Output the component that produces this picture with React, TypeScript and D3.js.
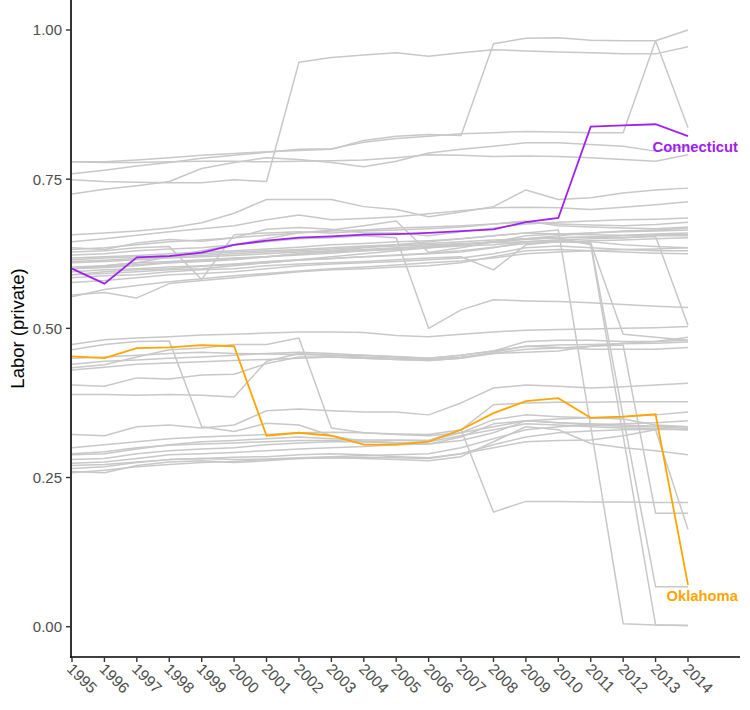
import * as d3 from "d3";

const years = d3.range(1995, 2015);
const yTicks = [0, 0.25, 0.5, 0.75, 1];

// highlighted states
const connecticut = [0.600, 0.575, 0.619, 0.621, 0.627, 0.640, 0.647, 0.652, 0.654, 0.657, 0.658, 0.660, 0.663, 0.666, 0.678, 0.685, 0.838, 0.840, 0.842, 0.822];
const oklahoma = [0.453, 0.450, 0.467, 0.468, 0.472, 0.470, 0.320, 0.325, 0.320, 0.305, 0.305, 0.310, 0.330, 0.358, 0.378, 0.383, 0.350, 0.352, 0.356, 0.070];

// remaining states (grey)
const s01 = [0.749, 0.746, 0.745, 0.744, 0.744, 0.749, 0.746, 0.946, 0.954, 0.958, 0.962, 0.956, 0.962, 0.967, 0.965, 0.963, 0.962, 0.960, 0.960, 0.972];
const s02 = [0.779, 0.779, 0.782, 0.786, 0.790, 0.793, 0.796, 0.798, 0.800, 0.815, 0.822, 0.825, 0.823, 0.977, 0.986, 0.987, 0.983, 0.982, 0.982, 1.000];
const s03 = [0.759, 0.765, 0.772, 0.778, 0.785, 0.790, 0.795, 0.800, 0.801, 0.812, 0.818, 0.822, 0.826, 0.828, 0.830, 0.829, 0.828, 0.828, 0.982, 0.836];
const s04 = [0.779, 0.778, 0.778, 0.779, 0.780, 0.780, 0.779, 0.780, 0.781, 0.782, 0.786, 0.791, 0.790, 0.788, 0.789, 0.788, 0.786, 0.783, 0.780, 0.791];
const s05 = [0.725, 0.733, 0.739, 0.746, 0.768, 0.778, 0.786, 0.783, 0.778, 0.771, 0.780, 0.794, 0.800, 0.805, 0.811, 0.811, 0.808, 0.805, 0.797, 0.805];
const s06 = [0.657, 0.660, 0.663, 0.668, 0.677, 0.693, 0.716, 0.716, 0.716, 0.704, 0.699, 0.687, 0.695, 0.704, 0.732, 0.716, 0.719, 0.727, 0.732, 0.735];
const s07 = [0.645, 0.650, 0.656, 0.662, 0.667, 0.672, 0.682, 0.690, 0.682, 0.684, 0.687, 0.692, 0.697, 0.702, 0.703, 0.702, 0.699, 0.703, 0.707, 0.712];
const s08 = [0.635, 0.632, 0.643, 0.649, 0.646, 0.652, 0.666, 0.669, 0.666, 0.660, 0.660, 0.655, 0.662, 0.668, 0.675, 0.678, 0.680, 0.682, 0.683, 0.685];
const s09 = [0.628, 0.630, 0.635, 0.637, 0.582, 0.657, 0.660, 0.662, 0.660, 0.663, 0.665, 0.667, 0.670, 0.675, 0.680, 0.672, 0.670, 0.668, 0.667, 0.670];
const s10 = [0.623, 0.625, 0.630, 0.633, 0.635, 0.640, 0.645, 0.650, 0.652, 0.655, 0.652, 0.500, 0.531, 0.548, 0.546, 0.545, 0.543, 0.540, 0.537, 0.535];
const s11 = [0.600, 0.605, 0.610, 0.620, 0.630, 0.640, 0.650, 0.660, 0.665, 0.672, 0.680, 0.627, 0.635, 0.645, 0.655, 0.658, 0.660, 0.662, 0.663, 0.665];
const s12 = [0.600, 0.602, 0.605, 0.610, 0.612, 0.615, 0.620, 0.625, 0.630, 0.635, 0.640, 0.645, 0.650, 0.655, 0.660, 0.665, 0.335, 0.005, 0.003, 0.002];
const s13 = [0.615, 0.618, 0.620, 0.622, 0.625, 0.628, 0.630, 0.632, 0.635, 0.638, 0.640, 0.642, 0.645, 0.648, 0.650, 0.652, 0.640, 0.320, 0.003, 0.002];
const s14 = [0.590, 0.592, 0.595, 0.598, 0.600, 0.605, 0.610, 0.615, 0.620, 0.625, 0.630, 0.635, 0.638, 0.640, 0.645, 0.648, 0.642, 0.352, 0.067, 0.067];
const s15 = [0.612, 0.614, 0.617, 0.620, 0.622, 0.625, 0.628, 0.630, 0.633, 0.636, 0.638, 0.640, 0.642, 0.644, 0.645, 0.645, 0.643, 0.490, 0.485, 0.480];
const s16 = [0.590, 0.595, 0.598, 0.600, 0.604, 0.607, 0.610, 0.614, 0.617, 0.620, 0.623, 0.626, 0.630, 0.636, 0.642, 0.645, 0.647, 0.648, 0.650, 0.652];
const s17 = [0.600, 0.603, 0.607, 0.610, 0.613, 0.617, 0.620, 0.623, 0.626, 0.630, 0.634, 0.638, 0.641, 0.645, 0.649, 0.652, 0.653, 0.652, 0.654, 0.505];
const s18 = [0.618, 0.620, 0.622, 0.625, 0.628, 0.630, 0.633, 0.636, 0.640, 0.642, 0.645, 0.647, 0.650, 0.655, 0.660, 0.658, 0.657, 0.656, 0.658, 0.660];
const s19 = [0.603, 0.605, 0.610, 0.612, 0.615, 0.618, 0.620, 0.625, 0.628, 0.630, 0.632, 0.635, 0.640, 0.645, 0.650, 0.652, 0.653, 0.655, 0.657, 0.657];
const s20 = [0.595, 0.598, 0.600, 0.603, 0.605, 0.608, 0.612, 0.615, 0.617, 0.620, 0.622, 0.625, 0.628, 0.635, 0.645, 0.648, 0.650, 0.652, 0.655, 0.655];
const s21 = [0.585, 0.588, 0.590, 0.595, 0.598, 0.600, 0.605, 0.608, 0.610, 0.612, 0.615, 0.618, 0.620, 0.598, 0.640, 0.645, 0.645, 0.640, 0.637, 0.635];
const s22 = [0.577, 0.580, 0.585, 0.590, 0.592, 0.595, 0.600, 0.605, 0.608, 0.610, 0.612, 0.615, 0.618, 0.625, 0.635, 0.638, 0.635, 0.632, 0.630, 0.630];
const s23 = [0.556, 0.560, 0.551, 0.575, 0.580, 0.585, 0.590, 0.595, 0.598, 0.600, 0.603, 0.605, 0.610, 0.620, 0.630, 0.632, 0.630, 0.628, 0.626, 0.625];
const s24 = [0.553, 0.565, 0.572, 0.578, 0.583, 0.588, 0.592, 0.596, 0.600, 0.603, 0.606, 0.610, 0.613, 0.618, 0.625, 0.628, 0.630, 0.632, 0.633, 0.635];
const s25 = [0.610, 0.612, 0.615, 0.618, 0.620, 0.622, 0.625, 0.628, 0.630, 0.632, 0.635, 0.637, 0.640, 0.645, 0.650, 0.655, 0.660, 0.663, 0.665, 0.668];
const s26 = [0.632, 0.635, 0.640, 0.645, 0.648, 0.652, 0.656, 0.660, 0.663, 0.665, 0.668, 0.670, 0.672, 0.675, 0.678, 0.675, 0.673, 0.672, 0.674, 0.678];
const s27 = [0.473, 0.481, 0.484, 0.486, 0.489, 0.490, 0.492, 0.494, 0.494, 0.493, 0.488, 0.486, 0.490, 0.494, 0.497, 0.498, 0.499, 0.500, 0.501, 0.503];
const s28 = [0.464, 0.473, 0.478, 0.479, 0.335, 0.327, 0.341, 0.338, 0.320, 0.310, 0.308, 0.310, 0.320, 0.330, 0.340, 0.338, 0.335, 0.333, 0.332, 0.330];
const s29 = [0.434, 0.439, 0.452, 0.464, 0.467, 0.473, 0.473, 0.484, 0.333, 0.325, 0.322, 0.320, 0.325, 0.335, 0.345, 0.342, 0.340, 0.338, 0.336, 0.335];
const s30 = [0.405, 0.403, 0.417, 0.415, 0.422, 0.423, 0.441, 0.452, 0.452, 0.450, 0.448, 0.446, 0.450, 0.460, 0.470, 0.468, 0.465, 0.465, 0.465, 0.468];
const s31 = [0.389, 0.389, 0.388, 0.389, 0.388, 0.385, 0.445, 0.458, 0.455, 0.455, 0.453, 0.450, 0.455, 0.462, 0.478, 0.480, 0.480, 0.478, 0.478, 0.480];
const s32 = [0.440, 0.445, 0.447, 0.450, 0.452, 0.455, 0.458, 0.460, 0.458, 0.455, 0.452, 0.450, 0.455, 0.462, 0.470, 0.472, 0.473, 0.474, 0.475, 0.477];
const s33 = [0.450, 0.452, 0.455, 0.458, 0.460, 0.458, 0.457, 0.456, 0.455, 0.452, 0.450, 0.448, 0.452, 0.458, 0.460, 0.462, 0.470, 0.475, 0.478, 0.485];
const s34 = [0.430, 0.435, 0.440, 0.442, 0.444, 0.446, 0.448, 0.450, 0.452, 0.450, 0.448, 0.446, 0.450, 0.458, 0.465, 0.467, 0.470, 0.472, 0.190, 0.190];
const s35 = [0.322, 0.320, 0.335, 0.338, 0.333, 0.338, 0.362, 0.365, 0.362, 0.360, 0.360, 0.355, 0.375, 0.400, 0.405, 0.403, 0.400, 0.402, 0.405, 0.408];
const s36 = [0.300, 0.305, 0.310, 0.315, 0.318, 0.320, 0.322, 0.325, 0.326, 0.325, 0.323, 0.322, 0.330, 0.192, 0.210, 0.210, 0.209, 0.209, 0.208, 0.208];
const s37 = [0.288, 0.290, 0.298, 0.305, 0.310, 0.312, 0.315, 0.318, 0.315, 0.313, 0.313, 0.312, 0.330, 0.372, 0.375, 0.376, 0.376, 0.377, 0.377, 0.377];
const s38 = [0.280, 0.282, 0.290, 0.295, 0.298, 0.300, 0.305, 0.308, 0.310, 0.310, 0.312, 0.312, 0.325, 0.347, 0.355, 0.352, 0.350, 0.348, 0.338, 0.335];
const s39 = [0.274, 0.276, 0.282, 0.288, 0.290, 0.292, 0.295, 0.298, 0.300, 0.302, 0.305, 0.306, 0.318, 0.340, 0.345, 0.342, 0.338, 0.336, 0.335, 0.332];
const s40 = [0.265, 0.268, 0.275, 0.280, 0.282, 0.284, 0.285, 0.288, 0.290, 0.288, 0.285, 0.283, 0.290, 0.305, 0.318, 0.325, 0.328, 0.330, 0.331, 0.330];
const s41 = [0.260, 0.258, 0.270, 0.276, 0.278, 0.275, 0.278, 0.282, 0.283, 0.282, 0.280, 0.278, 0.285, 0.310, 0.335, 0.330, 0.307, 0.300, 0.295, 0.288];
const s42 = [0.258, 0.262, 0.268, 0.272, 0.275, 0.277, 0.280, 0.282, 0.283, 0.284, 0.283, 0.282, 0.290, 0.300, 0.310, 0.312, 0.313, 0.320, 0.330, 0.163];
const s43 = [0.270, 0.272, 0.276, 0.280, 0.282, 0.280, 0.281, 0.283, 0.285, 0.287, 0.288, 0.290, 0.300, 0.315, 0.330, 0.335, 0.338, 0.340, 0.342, 0.345];
const s44 = [0.290, 0.293, 0.300, 0.304, 0.306, 0.308, 0.310, 0.312, 0.312, 0.310, 0.308, 0.306, 0.312, 0.325, 0.345, 0.348, 0.350, 0.352, 0.355, 0.360];

const greyStates = [
  s01, s02, s03, s04, s05, s06, s07, s08, s09, s10, s11, s12, s13, s14, s15,
  s16, s17, s18, s19, s20, s21, s22, s23, s24, s25, s26, s27, s28, s29, s30,
  s31, s32, s33, s34, s35, s36, s37, s38, s39, s40, s41, s42, s43, s44,
];

const FONT = "'Liberation Sans', Arial, Helvetica, sans-serif";

export default function App() {
  const width = 750;
  const height = 710;

  const x = d3.scaleLinear().domain([1995, 2014]).range([72, 688]);
  const y = d3.scaleLinear().domain([0, 1]).range([626.7, 30]);

  const axisLeft = 71;
  const axisBottom = 657;
  const axisRight = 740;

  const line = d3
    .line<number>()
    .x((_, i) => x(years[i]))
    .y((d) => y(d));

  const last = years.length - 1;

  return (
    <svg
      width={width}
      height={height}
      style={{ position: "absolute", left: 0, top: 0, background: "#fff" }}
      fontFamily={FONT}
    >
      <rect width={width} height={height} fill="#fff" />

      {/* grey lines */}
      <g fill="none" stroke="#c8c8c8" strokeWidth={1.5} strokeLinejoin="round">
        {greyStates.map((s, i) => (
          <path key={i} d={line(s) ?? ""} />
        ))}
      </g>

      {/* highlighted lines */}
      <path d={line(connecticut) ?? ""} fill="none" stroke="#a020f0" strokeWidth={1.8} />
      <path d={line(oklahoma) ?? ""} fill="none" stroke="#ffa500" strokeWidth={1.8} />

      <text
        x={738}
        y={y(connecticut[last]) + 16}
        textAnchor="end"
        fontSize={14.8}
        fontWeight="bold"
        fill="#a020f0"
      >
        Connecticut
      </text>
      <text
        x={738}
        y={y(oklahoma[last]) + 16}
        textAnchor="end"
        fontSize={14.8}
        fontWeight="bold"
        fill="#ffa500"
      >
        Oklahoma
      </text>

      {/* y axis */}
      <line x1={axisLeft} x2={axisLeft} y1={0} y2={axisBottom + 1} stroke="#000" strokeWidth={1.6} />
      {yTicks.map((t) => (
        <g key={t} transform={`translate(${axisLeft},${y(t)})`}>
          <line x1={-5} x2={0} stroke="#333" strokeWidth={1.4} />
          <text x={-9} dy="0.36em" textAnchor="end" fontSize={15} fill="#4d4d4d">
            {t.toFixed(2)}
          </text>
        </g>
      ))}
      <text
        transform={`translate(24,${(0 + axisBottom) / 2}) rotate(-90)`}
        textAnchor="middle"
        fontSize={18.5}
        fill="#000"
      >
        Labor (private)
      </text>

      {/* x axis */}
      <line x1={axisLeft - 0.8} x2={axisRight} y1={axisBottom} y2={axisBottom} stroke="#000" strokeWidth={1.6} />
      {years.map((yr) => (
        <g key={yr} transform={`translate(${x(yr)},${axisBottom})`}>
          <line y1={0} y2={5} stroke="#333" strokeWidth={1.4} />
          <text
            transform="translate(2,5) rotate(45)"
            dy="0.72em"
            textAnchor="start"
            fontSize={15.5}
            fill="#4d4d4d"
          >
            {yr}
          </text>
        </g>
      ))}
    </svg>
  );
}
